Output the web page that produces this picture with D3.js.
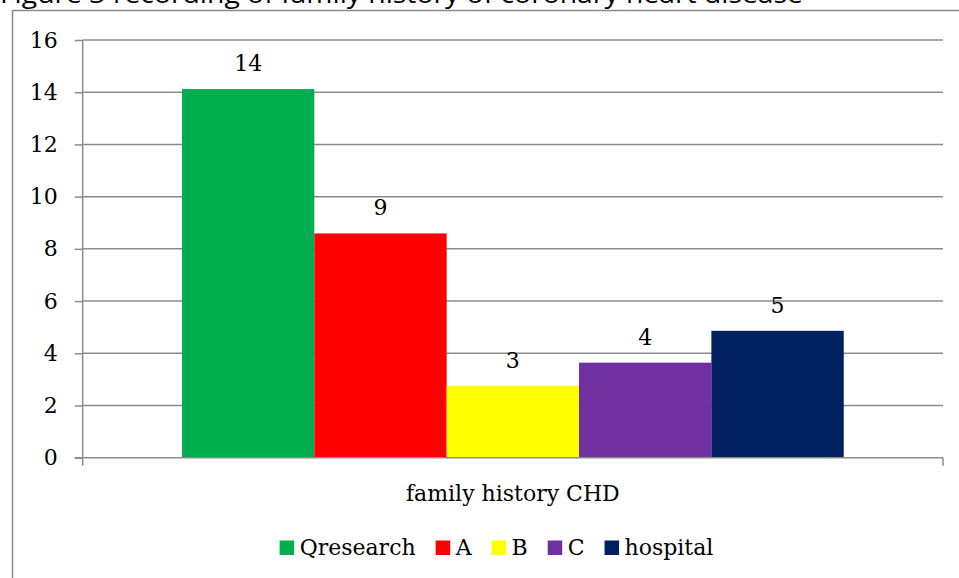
<!DOCTYPE html>
<html>
<head>
<meta charset="utf-8">
<script src="https://cdn.jsdelivr.net/npm/d3@7"></script>
<style>
  html, body { margin: 0; padding: 0; background: #fff; }
  svg { display: block; }
</style>
</head>
<body>
<svg id="chart" width="959" height="578"></svg>
<script>
const titleText = "Figure 3 recording of family history of coronary heart disease";
const categories = ["family history CHD"];
const seriesNames = ["Qresearch", "A", "B", "C", "hospital"];
const seriesValues = [14.12, 8.59, 2.76, 3.64, 4.86];
const seriesLabels = ["14", "9", "3", "4", "5"];
const seriesColors = ["#00ad4f", "#ff0000", "#ffff00", "#7030a0", "#002060"];
const yTicks = [0, 2, 4, 6, 8, 10, 12, 14, 16];

const svg = d3.select("#chart");
const serif = "'DejaVu Serif', serif";
const fs = 22;
const grid = "#8c8c8c";

// Title (mostly clipped at top, as in the reference)
svg.append("text")
  .attr("x", 0).attr("y", 3)
  .attr("font-family", "'Open Sans', sans-serif")
  .attr("font-size", 25)
  .attr("textLength", 803).attr("lengthAdjust", "spacingAndGlyphs")
  .attr("fill", "#000")
  .text(titleText);

// Chart frame
svg.append("rect")
  .attr("x", 12.5).attr("y", 10.5)
  .attr("width", 960).attr("height", 600)
  .attr("fill", "none").attr("stroke", grid).attr("stroke-width", 1.5);

const plot = { left: 82.7, right: 943, top: 40, bottom: 457.7 };

const y = d3.scaleLinear().domain([0, 16]).range([plot.bottom, plot.top]);
const x0 = d3.scaleBand().domain(categories).range([plot.left, plot.right])
  .paddingInner(0).paddingOuter(0.15);
const x1 = d3.scaleBand().domain(seriesNames).range([0, x0.bandwidth()]).padding(0);

// Gridlines
svg.append("g").selectAll("line").data(yTicks.filter(d => d > 0)).join("line")
  .attr("x1", plot.left).attr("x2", plot.right)
  .attr("y1", d => y(d)).attr("y2", d => y(d))
  .attr("stroke", grid).attr("stroke-width", 1.5);

// Bars
const g = svg.append("g");
categories.forEach(cat => {
  g.selectAll("rect.b").data(seriesValues).join("rect")
    .attr("class", "b")
    .attr("x", (d, i) => x0(cat) + x1(seriesNames[i]))
    .attr("width", x1.bandwidth())
    .attr("y", d => y(d))
    .attr("height", d => y(0) - y(d))
    .attr("fill", (d, i) => seriesColors[i]);
  g.selectAll("text.l").data(seriesValues).join("text")
    .attr("class", "l")
    .attr("x", (d, i) => x0(cat) + x1(seriesNames[i]) + x1.bandwidth() / 2)
    .attr("y", d => y(d) - 18)
    .attr("text-anchor", "middle")
    .attr("font-family", serif).attr("font-size", fs)
    .attr("fill", "#000")
    .text((d, i) => seriesLabels[i]);
});

// Y axis
const yAxis = d3.axisLeft(y).tickValues(yTicks).tickSize(8).tickPadding(17)
  .tickFormat(d3.format("d"));
const ya = svg.append("g").attr("transform", `translate(${plot.left},0)`).call(yAxis);
ya.select(".domain").attr("stroke", grid).attr("stroke-width", 1.5)
  .attr("d", `M0,${plot.top}V${plot.bottom + 8}`);
ya.selectAll(".tick line").attr("stroke", grid).attr("stroke-width", 1.5);
ya.selectAll(".tick text").attr("font-family", serif).attr("font-size", fs).attr("fill", "#000");

// X axis
const xa = svg.append("g").attr("transform", `translate(0,${plot.bottom})`);
xa.append("line").attr("x1", plot.left - 8).attr("x2", plot.right)
  .attr("y1", 0).attr("y2", 0).attr("stroke", grid).attr("stroke-width", 1.5);
xa.append("line").attr("x1", plot.right).attr("x2", plot.right)
  .attr("y1", 0).attr("y2", 8).attr("stroke", grid).attr("stroke-width", 1.5);
xa.selectAll("text").data(categories).join("text")
  .attr("x", d => x0(d) + x0.bandwidth() / 2)
  .attr("y", 43)
  .attr("text-anchor", "middle")
  .attr("font-family", serif).attr("font-size", fs).attr("fill", "#000")
  .text(d => d);

// Legend
const leg = svg.append("g");
const items = leg.selectAll("g").data(seriesNames).join("g");
items.append("rect").attr("width", 14.5).attr("height", 14.5).attr("y", -14.5)
  .attr("fill", (d, i) => seriesColors[i]);
items.append("text").attr("x", 20).attr("y", 0)
  .attr("font-family", serif).attr("font-size", fs).attr("fill", "#000")
  .text(d => d);
let cx = 0;
const gap = 20;
items.each(function () {
  const w = 20 + d3.select(this).select("text").node().getComputedTextLength();
  d3.select(this).attr("transform", `translate(${cx},0)`);
  cx += w + gap;
});
const total = cx - gap;
leg.attr("transform", `translate(${496.5 - total / 2},555)`);
</script>
</body>
</html>
